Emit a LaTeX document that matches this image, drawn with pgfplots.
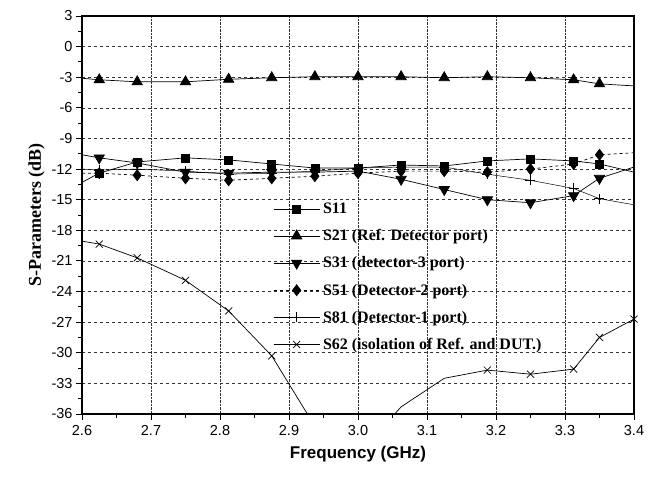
\documentclass[border=0pt]{standalone}
\usepackage{fontspec}
\setmainfont{Liberation Serif}
\newfontfamily\arial{Liberation Sans}
\usepackage{pgfplots}
\pgfplotsset{compat=1.18}

\begin{document}
\begin{tikzpicture}
\begin{axis}[
  at={(0,0)}, anchor=south west,
  scale only axis, width=552pt, height=398pt,
  xmin=2.6, xmax=3.4, ymin=-36, ymax=3,
  xtick={2.6,2.7,2.8,2.9,3.0,3.1,3.2,3.3,3.4},
  ytick={-36,-33,-30,-27,-24,-21,-18,-15,-12,-9,-6,-3,0,3},
  minor x tick num=1, minor y tick num=1,
  tick align=outside, xtick pos=bottom, ytick pos=left,
  major tick length=6pt, minor tick length=4pt,
  tick style={black, line width=0.9pt},
  axis line style={line width=1.2pt},
  xmajorgrids, ymajorgrids,
  x grid style={densely dotted, black!80, line width=0.6pt},
  y grid style={dashed, black!80, line width=0.6pt},
  /pgf/number format/assume math mode=true,
  ticklabel style={font=\arial\fontsize{14.5}{14.5}\selectfont},
  xticklabel style={/pgf/number format/fixed, /pgf/number format/fixed zerofill,
                    /pgf/number format/precision=1, yshift=-2pt},
  xlabel={Frequency (GHz)},
  xlabel style={font=\arial\bfseries\fontsize{17}{17}\selectfont, yshift=-4pt},
  ylabel={S-Parameters (dB)},
  ylabel style={font=\bfseries\fontsize{18}{18}\selectfont, yshift=0pt},
  legend style={at={(axis cs:2.877,-15.3)}, anchor=north west, draw=none, fill=none,
                font=\bfseries\fontsize{16}{16}\selectfont, row sep=14.5pt,
                inner sep=0pt, nodes={inner xsep=3pt, inner ysep=0pt}},
  legend cell align=left,
  legend image code/.code={
    \draw[#1, mark=none] (0pt,0pt) -- (46pt,0pt);
    \draw[#1, mark indices={1}] plot coordinates {(23pt,0pt)};},
  every axis plot/.append style={black, line width=0.7pt, mark indices={2,...,14}},
]
% S11
\addplot[mark=square*, mark size=4pt, mark options={solid}] coordinates {
(2.6,-13.3) (2.625,-12.4) (2.68,-11.3) (2.75,-10.9) (2.8125,-11.1) (2.875,-11.5)
(2.9375,-11.9) (3.0,-11.9) (3.0625,-11.6) (3.125,-11.7) (3.1875,-11.2) (3.25,-11.0)
(3.3125,-11.2) (3.35,-11.5) (3.4,-12.3)};
\addlegendentry{S11}
% S21
\addplot[mark=triangle*, mark size=6pt, mark options={solid}] coordinates {
(2.6,-3.1) (2.625,-3.25) (2.68,-3.45) (2.75,-3.45) (2.8125,-3.2) (2.875,-3.05)
(2.9375,-2.95) (3.0,-2.95) (3.0625,-2.95) (3.125,-3.05) (3.1875,-2.95) (3.25,-3.05)
(3.3125,-3.25) (3.35,-3.65) (3.4,-3.85)};
\addlegendentry{S21 (Ref. Detector port)}
% S31
\addplot[mark=triangle*, mark size=6pt, mark options={solid, rotate=180}] coordinates {
(2.6,-10.6) (2.625,-10.9) (2.68,-11.4) (2.75,-12.3) (2.8125,-12.4) (2.875,-12.3)
(2.9375,-12.3) (3.0,-12.2) (3.0625,-13.0) (3.125,-14.0) (3.1875,-15.0) (3.25,-15.3)
(3.3125,-14.6) (3.35,-12.9) (3.4,-11.8)};
\addlegendentry{S31 (detector-3 port)}
% S51
\addplot[dashed, mark=diamond*, mark size=5.5pt, mark options={solid}] coordinates {
(2.6,-12.4) (2.625,-12.4) (2.68,-12.6) (2.75,-12.9) (2.8125,-13.1) (2.875,-12.9)
(2.9375,-12.7) (3.0,-12.4) (3.0625,-12.2) (3.125,-12.2) (3.1875,-12.3) (3.25,-12.0)
(3.3125,-11.5) (3.35,-10.6) (3.4,-10.4)};
\addlegendentry{S51 (Detector-2 port)}
% S81
\addplot[line width=0.5pt, mark=+, mark size=5pt, mark options={solid, line width=0.7pt}] coordinates {
(2.6,-12.0) (2.625,-12.1) (2.68,-12.0) (2.75,-12.2) (2.8125,-12.5) (2.875,-12.4)
(2.9375,-12.2) (3.0,-11.9) (3.0625,-11.8) (3.125,-11.8) (3.1875,-12.5) (3.25,-13.1)
(3.3125,-13.9) (3.35,-14.9) (3.4,-15.5)};
\addlegendentry{S81 (Detector-1 port)}
% S62
\addplot[mark=x, mark size=5pt, mark options={solid}, mark indices={2,3,4,5,6,9,10,11,12,13,14}] coordinates {
(2.6,-19.06) (2.625,-19.35) (2.68,-20.7) (2.75,-22.9) (2.8125,-25.9) (2.875,-30.3)
(2.9375,-37.2) (3.0,-40.0) (3.0625,-35.3) (3.125,-32.5) (3.1875,-31.7) (3.25,-32.1)
(3.3125,-31.6) (3.35,-28.5) (3.4,-26.7)};
\addlegendentry{S62 (isolation of Ref. and DUT.)}
\end{axis}
\path[use as bounding box] (-82pt,-63pt) rectangle (572pt,414pt);
\end{tikzpicture}
\end{document}
